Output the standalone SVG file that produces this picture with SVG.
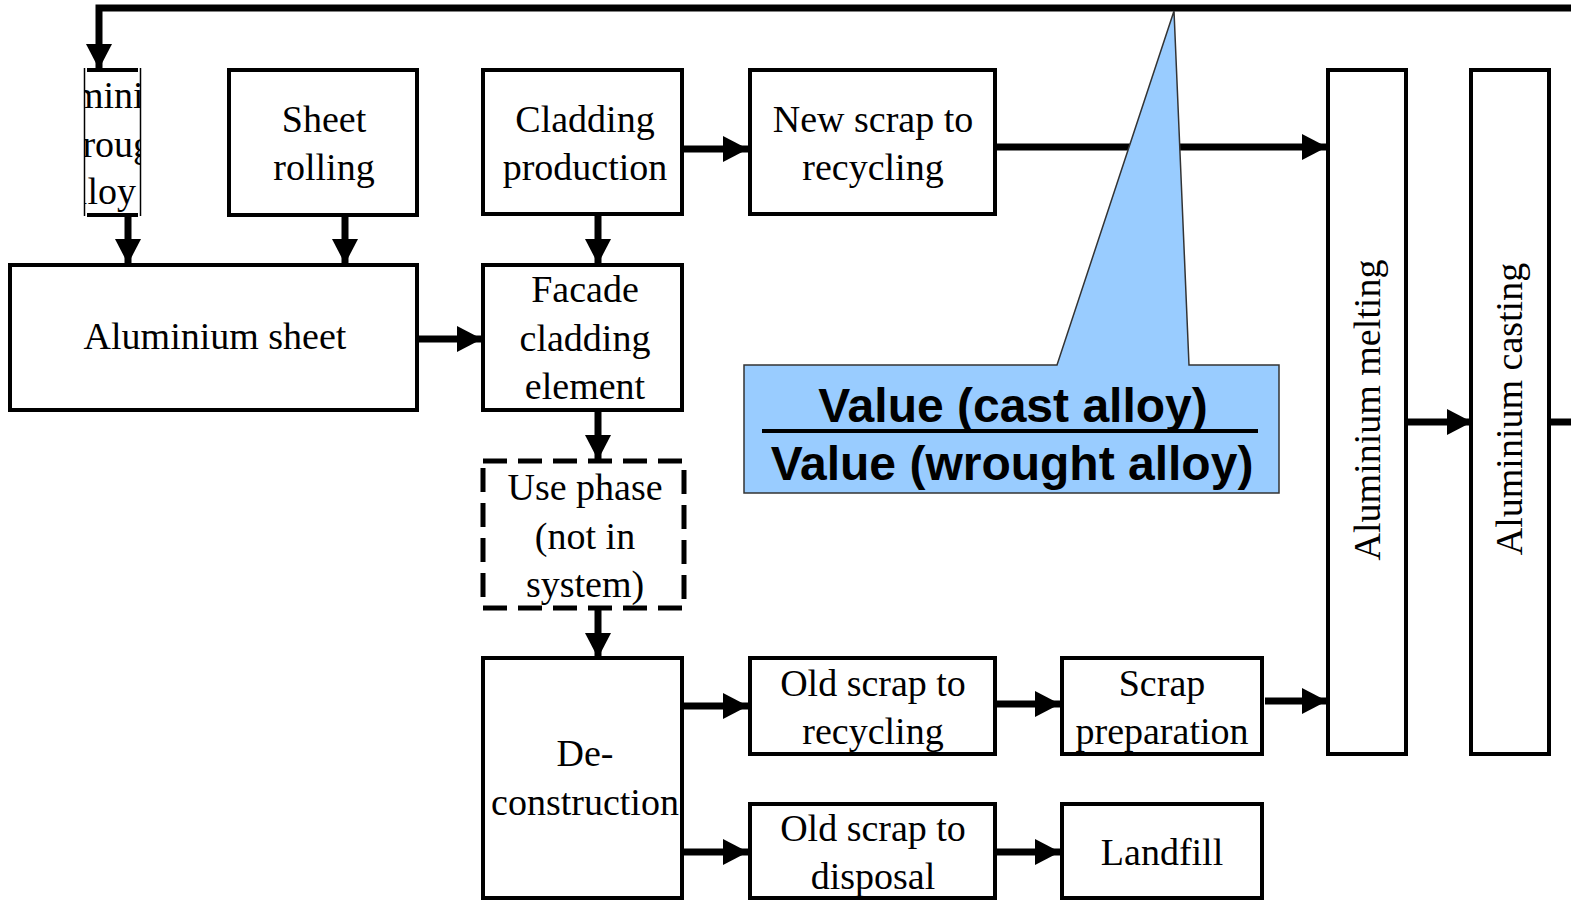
<svg xmlns="http://www.w3.org/2000/svg" width="1571" height="902" viewBox="0 0 1571 902">
  <style>
    .box { fill: #ffffff; stroke: #000000; stroke-width: 4; }
    .dash { fill: #ffffff; stroke: #000000; stroke-width: 5; stroke-dasharray: 24 11; }
    .lbl { font-family: "Liberation Serif", "Times New Roman", serif; font-size: 38px; fill: #000000; text-anchor: middle; }
    .lbl-start { font-family: "Liberation Serif", "Times New Roman", serif; font-size: 38px; fill: #000000; }
    .flow { fill: none; stroke: #000000; stroke-width: 7; marker-end: url(#head); }
    .callout { fill: #99ccff; stroke: #333333; stroke-width: 1.5; }
    .ratio { font-family: "Liberation Sans", Arial, sans-serif; font-size: 48px; font-weight: bold; fill: #000000; text-anchor: middle; }
  </style>
  <defs>
    <marker id="head" markerUnits="userSpaceOnUse" markerWidth="25" markerHeight="26" viewBox="0 0 25 26" refX="25" refY="13" orient="auto">
      <path d="M0 0 L25 13 L0 26 Z" fill="#000000"/>
    </marker>
    <clipPath id="alloyClip">
      <rect x="85" y="72" width="55" height="142"/>
    </clipPath>
  </defs>

  <rect width="1571" height="902" fill="#ffffff"/>

  <!-- connectors -->
  <g id="connectors">
    <path class="flow" d="M1571 8 H99 V69"/>
    <path class="flow" d="M128 216 V264"/>
    <path class="flow" d="M345 216 V264"/>
    <path class="flow" d="M418 339 H482"/>
    <path class="flow" d="M598 215 V264"/>
    <path class="flow" d="M683 149 H748"/>
    <path class="flow" d="M997 147 H1327"/>
    <path class="flow" d="M598 411 V460"/>
    <path class="flow" d="M598 610 V658"/>
    <path class="flow" d="M684 706 H748"/>
    <path class="flow" d="M684 852 H748"/>
    <path class="flow" d="M997 704 H1060"/>
    <path class="flow" d="M997 852 H1060"/>
    <path class="flow" d="M1265 701 H1327"/>
    <path class="flow" d="M1407 422 H1472"/>
    <path d="M1551 422 H1571" fill="none" stroke="#000000" stroke-width="7"/>
  </g>

  <!-- narrow wrought alloy source box, label clipped by its frame -->
  <g id="wrought-alloy">
    <rect x="84" y="70" width="57" height="145" fill="#ffffff"/>
    <line x1="84.5" y1="68" x2="84.5" y2="216" stroke="#000000" stroke-width="1.5"/>
    <line x1="140.5" y1="68" x2="140.5" y2="216" stroke="#000000" stroke-width="1.5"/>
    <line x1="87" y1="70" x2="138" y2="70" stroke="#000000" stroke-width="4"/>
    <line x1="87" y1="215" x2="138" y2="215" stroke="#000000" stroke-width="4"/>
    <g clip-path="url(#alloyClip)">
      <text class="lbl-start" x="17" y="108">Aluminium</text>
      <text class="lbl-start" x="55" y="157">wrought</text>
      <text class="lbl-start" x="60" y="204">alloy</text>
    </g>
  </g>

  <g id="sheet-rolling">
    <rect class="box" x="229" y="70" width="188" height="145"/>
    <text class="lbl" x="324" y="132">Sheet</text>
    <text class="lbl" x="324" y="180">rolling</text>
  </g>

  <g id="cladding-production">
    <rect class="box" x="483" y="70" width="199" height="144"/>
    <text class="lbl" x="585" y="132">Cladding</text>
    <text class="lbl" x="585" y="180">production</text>
  </g>

  <g id="new-scrap">
    <rect class="box" x="750" y="70" width="245" height="144"/>
    <text class="lbl" x="873" y="132">New scrap to</text>
    <text class="lbl" x="873" y="180">recycling</text>
  </g>

  <g id="aluminium-sheet">
    <rect class="box" x="10" y="265" width="407" height="145"/>
    <text class="lbl" x="215" y="349">Aluminium sheet</text>
  </g>

  <g id="facade-element">
    <rect class="box" x="483" y="265" width="199" height="145"/>
    <text class="lbl" x="585" y="302">Facade</text>
    <text class="lbl" x="585" y="351">cladding</text>
    <text class="lbl" x="585" y="399">element</text>
  </g>

  <g id="use-phase">
    <rect class="dash" x="483" y="461" width="201" height="147"/>
    <text class="lbl" x="585" y="500">Use phase</text>
    <text class="lbl" x="585" y="549">(not in</text>
    <text class="lbl" x="585" y="597">system)</text>
  </g>

  <g id="deconstruction">
    <rect class="box" x="483" y="658" width="199" height="240"/>
    <text class="lbl" x="585" y="766">De-</text>
    <text class="lbl" x="585" y="815">construction</text>
  </g>

  <g id="old-scrap-recycling">
    <rect class="box" x="750" y="658" width="245" height="96"/>
    <text class="lbl" x="873" y="696">Old scrap to</text>
    <text class="lbl" x="873" y="744">recycling</text>
  </g>

  <g id="old-scrap-disposal">
    <rect class="box" x="750" y="804" width="245" height="94"/>
    <text class="lbl" x="873" y="841">Old scrap to</text>
    <text class="lbl" x="873" y="889">disposal</text>
  </g>

  <g id="scrap-preparation">
    <rect class="box" x="1062" y="658" width="200" height="96"/>
    <text class="lbl" x="1162" y="696">Scrap</text>
    <text class="lbl" x="1162" y="744">preparation</text>
  </g>

  <g id="landfill">
    <rect class="box" x="1062" y="804" width="200" height="94"/>
    <text class="lbl" x="1162" y="865">Landfill</text>
  </g>

  <g id="aluminium-melting">
    <rect class="box" x="1328" y="70" width="78" height="684"/>
    <text class="lbl" x="1380" y="410" transform="rotate(-90 1380 410)">Aluminium melting</text>
  </g>

  <g id="aluminium-casting">
    <rect class="box" x="1471" y="70" width="78" height="684"/>
    <text class="lbl" x="1522" y="409" transform="rotate(-90 1522 409)">Aluminium casting</text>
  </g>

  <!-- value ratio callout pointing at the return flow -->
  <g id="value-callout">
    <path class="callout" d="M744 365 H1057 L1174 11 L1189 365 H1279 V493 H744 Z"/>
    <text class="ratio" x="1013" y="422">Value (cast alloy)</text>
    <line x1="762" y1="431" x2="1258" y2="431" stroke="#000000" stroke-width="4"/>
    <text class="ratio" x="1012" y="480">Value (wrought alloy)</text>
  </g>
</svg>
